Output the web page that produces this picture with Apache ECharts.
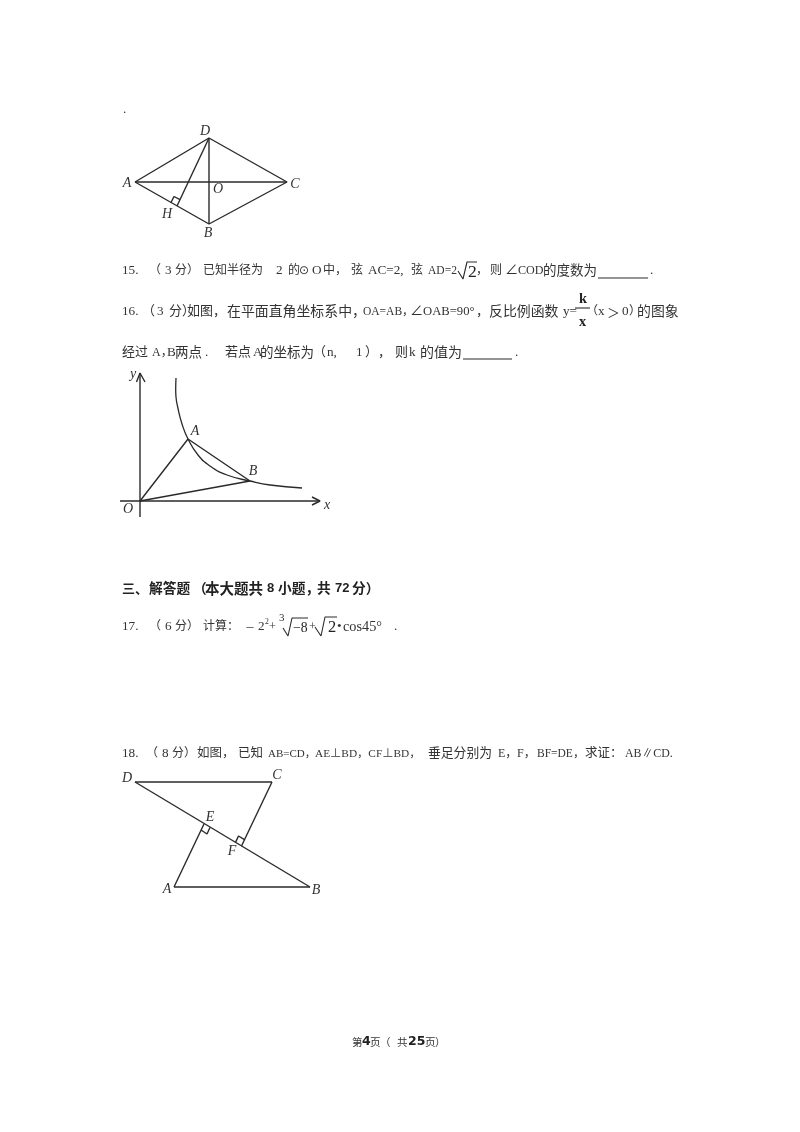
<!DOCTYPE html>
<html><head><meta charset="utf-8">
<style>html,body{margin:0;padding:0;background:#fff}#c{width:800px;height:1132px;filter:blur(0.35px)}</style>
<script src="https://cdn.jsdelivr.net/npm/echarts@6/dist/echarts.min.js"></script>
</head><body><div id="c"></div>
<script>
// Figure 1 (rhombus)
const rhombusOutline=[[135,182],[209,138],[287,182],[209,224],[135,182]];
const rhombusAC=[[135,182],[287,182]];
const rhombusDB=[[209,138],[209,224]];
const rhombusDH=[[209,138],[177,206]];
const rhombusMark=[[171,202.5],[174,196.5],[180,199.7]];
// Figure 2 (hyperbola)
const axisY=[[140,517],[140,373]];
const axisYHead=[[136.5,382],[140,373],[145,382]];
const axisX=[[120,501],[320,501]];
const axisXHead=[[312,497],[320,501],[312,505]];
const triangleOAB=[[140,501],[188,439],[250,481],[140,501]];
const hyperbola=[[176,378],[175.7,390],[176,397],[177.7,407],[181.7,423],[188,439],[198,455],[210,466],[227,475],[250,481],[270,485],[302,488]];
// Figure 3 (two triangles)
const fig3DB=[[135,782],[310,887]];
const fig3DC=[[135,782],[272,782]];
const fig3CF=[[272,782],[241.5,846]];
const fig3AB=[[174,887],[310,887]];
const fig3AE=[[174,887],[204,824]];
const fig3MarkE=[[210,827.5],[207,834],[201,830]];
const fig3MarkF=[[235.5,842.4],[238.5,836],[244.5,839.7]];
// Radicals and rules
const sqrtLine15=[[458,271],[460,270],[463,279],[467,262],[477,262]];
const blank15=[[598,278],[648,278]];
const blank16=[[463,359],[512,359]];
const fracBar=[[575,308],[590,308]];
const cbrtLine17=[[283,628],[285,627],[288,636],[292,618],[308,618]];
const sqrtLine17=[[315,627],[317,626],[321,636],[325,617],[337,617]];
const polylines=[rhombusOutline,rhombusAC,rhombusDB,rhombusDH,rhombusMark,axisY,axisYHead,axisX,axisXHead,triangleOAB,fig3DB,fig3DC,fig3CF,fig3AB,fig3AE,fig3MarkE,fig3MarkF];
const rules=[sqrtLine15,blank15,blank16,fracBar,cbrtLine17,sqrtLine17];

const SER='"Liberation Serif","Noto Sans CJK SC"';
const CJK='"Noto Sans CJK SC"';
const els=[];
const hasCJK=s=>/[\u3000-\u9fff\uff00-\uffef]/.test(s);
function t(text,x,y,size,o){o=o||{};size=size||12;if(!o.f&&!hasCJK(text))size*=1.1;els.push({type:'text',silent:true,style:{text:text,x:x,y:y,fontSize:size,fontFamily:o.f||SER,fontWeight:o.w||'normal',fontStyle:o.i?'italic':'normal',fill:o.c||'#333',align:'left',verticalAlign:'middle'}});}
function lab(s,x,y){els.push({type:'text',silent:true,style:{text:s,x:x,y:y,fontSize:14,fontFamily:'"Liberation Serif"',fontStyle:'italic',fill:'#333',align:'center',verticalAlign:'middle'}});}

t('.',123,110,12);
lab('A',127,183);lab('D',205,131);lab('C',295,184);lab('O',218,189);lab('H',167,214);lab('B',208,233);
// Line 15
let y=271;
t('15.',122,y,12);t('（',149,y,12);t('3',165,y,12);t('分）',175,y,12);
t('已知半径为',203,y,12);t('2',276,y,12);t('的',288,y,12);t('⊙',299,y,12,{f:'"DejaVu Sans"'});t('O',312,y,12);t('中，',323,y,12);
t('弦',351,y,12);t('AC=2,',368,y,12);t('弦',411,y,12);t('AD=2',428,y,10.5);t('2',468,y+1,16,{c:'#222'});t('，',476,y,12);
t('则',490,y,12);t('∠',505,y,12);t('COD',518,y,11);t('的度数为',543,y,13.5);t('.',650,y,12);
// Line 16
y=312;
t('16.',122,y,12);t('（',142,y,13);t('3',157,y,12);t('分）',169,y,13);t('如图，',187,y,13);t('在平面直角坐标系中，',227,y,13.9);t('OA=AB，',363,y,11.5);
t('∠',410,y,12);t('OAB=90°',423,y,11.5);t('，',476,y,13);t('反比例函数',489,y,13.9);t('y=',563,y,12);
t('k',579,299,13,{w:'bold',c:'#222'});t('x',579,322,13,{w:'bold',c:'#222'});
t('（',586,y,12);t('x',598,y,12);t('＞',607,y,13,{f:CJK});t('0',622,y,12);t('）',629,y,12);t('的图象',637,y,13.9);
// Line 16b
y=353;
t('经过',122,y,13);t('A，',152,y,12);t('B',167,y,12);t('两点',175,y,13.5);t('.',205,y,12);t('若点',225,y,13);t('A',253,y,12);t('的坐标为',260,y,13.5);
t('（',313,y,13);t('n,',327,y,12);t('1',356,y,12);t('）',365,y,13);t('，',378,y,13);t('则',395,y,13);t('k',409,y,12);t('的值为',420,y,14);t('.',515,y,12);
// Figure 2 labels
lab('y',133,374);lab('A',195,431);lab('B',253,471);lab('O',128,509);lab('x',327,505);
// Heading
y=588;
const bold={w:'bold',c:'#222',f:CJK};
t('三、',122,y,13,bold);t('解答题',149,y,13.7,bold);t('（',193,y,13.7,bold);t('本大题共',205,y,14.5,bold);t('8',267,y,13,{w:'bold',c:'#222',f:'"Liberation Sans"'});t('小题，',278,y,13.7,bold);t('共',317,y,13.7,bold);t('72',335,y,13,{w:'bold',c:'#222',f:'"Liberation Sans"'});t('分）',352,y,13.7,bold);
// Line 17
y=627;
t('17.',122,y,12);t('（',149,y,12);t('6',165,y,12);t('分）',175,y,12);t('计算：',203,y,12);t('－',245,y,10,{f:CJK});t('2',258,y,12);t('2',265,y-5,7);t('+',269,y,11);
t('3',279,618,10);t('−8',293,y+1,12.5,{c:'#222'});t('+',309,y,11);t('2',328,y+1,15,{c:'#222'});t('•',337,y,12);t('cos45°',343,y,13);t('.',394,y,12);
// Line 18
y=754;
t('18.',122,y,12);t('（',146,y,12);t('8',162,y,12);t('分）',172,y,12);t('如图，',197,y,12.5);t('已知',238,y,12.5);t('AB=CD，',268,y,11);t('AE⊥BD，CF⊥BD，',315,y,11.3);
t('垂足分别为',428,y,12.8);t('E，',498,y,12);t('F，',517,y,12);t('BF=DE，',537,y,11.5);t('求证：',585,y,12.5);t('AB∥CD.',625,y,10.8);
// Figure 3 labels
lab('D',127,778);lab('C',277,775);lab('E',210,817);lab('F',232,851);lab('A',167,889);lab('B',316,890);
// Footer
y=1042;
t('第',352,y,10.5,{f:CJK});t('4',362,y,12.5,{w:'bold',f:'"DejaVu Sans"',c:'#222'});t('页',370,y,10.5,{f:CJK});t('（',380,y,10.5,{f:CJK});t('共',397,y,10.5,{f:CJK});t('25',408,y,12.5,{w:'bold',f:'"DejaVu Sans"',c:'#222'});t('页',425,y,10.5,{f:CJK});t('）',435,y,10.5,{f:CJK});

const chart=echarts.init(document.getElementById('c'));
const mk=(d,w,c,s)=>({type:'line',data:d,showSymbol:false,symbol:'none',smooth:!!s,clip:false,animation:false,silent:true,lineStyle:{width:w,color:c}});
chart.setOption({
 animation:false,backgroundColor:'#fff',
 grid:{left:0,right:0,top:0,bottom:0},
 xAxis:{type:'value',min:0,max:800,show:false},
 yAxis:{type:'value',min:0,max:1132,inverse:true,show:false},
 series:polylines.map(d=>mk(d,1.4,'#2a2a2a')).concat(rules.map(d=>mk(d,1.1,'#2a2a2a')),[mk(hyperbola,1.3,'#2a2a2a',true)]),
 graphic:{elements:els}
});
</script></body></html>
